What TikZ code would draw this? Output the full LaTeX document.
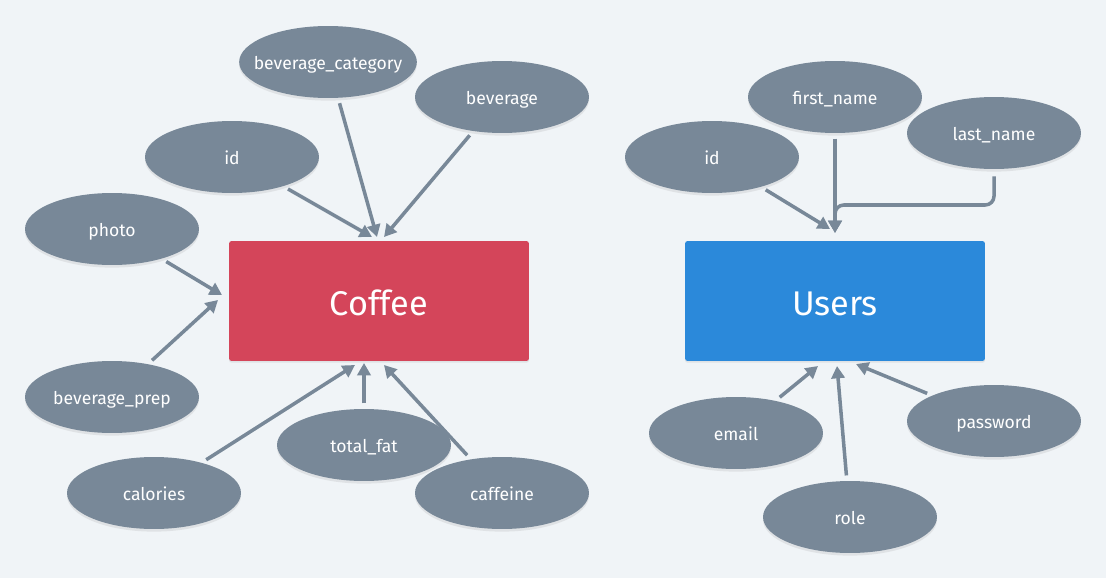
\documentclass[tikz,border=0pt]{standalone}
\usepackage{fontspec}
\setmainfont{Fira Sans}
\usetikzlibrary{arrows.meta,shapes.geometric,shadows}
\definecolor{attr}{RGB}{120,136,152}
\definecolor{bg}{RGB}{240,244,247}
\definecolor{coffeered}{RGB}{212,69,90}
\definecolor{usersblue}{RGB}{43,137,218}
\begin{document}
\begin{tikzpicture}[x=0.02cm,y=-0.02cm]

      \fill[bg] (0,0) rectangle (1106,578);
      \useasboundingbox (0,0) rectangle (1106,578);

      \begin{scope}[every node/.style={rectangle, rounded corners=1.5pt, minimum width=6cm, minimum height=2.4cm,
          text=white, text height=16pt, text depth=0pt, font=\fontsize{19.5}{22}\selectfont,
          drop shadow={shadow xshift=0pt, shadow yshift=-1pt, opacity=.15}}]
        \node[fill=coffeered] (coffee) at (379,301) {Coffee};
        \node[fill=usersblue] (users)  at (835,301) {Users};
      \end{scope}

      \begin{scope}[every node/.style={ellipse, fill=attr, inner sep=0pt, minimum width=3.48cm, minimum height=1.44cm,
          text=white, text height=1.6ex, text depth=0pt, font=\fontsize{10}{12}\selectfont,
          drop shadow={shadow xshift=0pt, shadow yshift=-1.5pt, opacity=.15}}]
        % Coffee attributes
        \node[inner xsep=-6.5pt] (cat) at (328,62) {beverage\_category};
        \node (bev)   at (502,97)  {beverage};
        \node (cid)   at (232,157) {id};
        \node (photo) at (112,229) {photo};
        \node (prep)  at (112,397) {beverage\_prep};
        \node (cal)   at (154,493) {calories};
        \node (fat)   at (364,445) {total\_fat};
        \node (caf)   at (502,493) {caffeine};
        % Users attributes
        \node (uid)   at (712,157) {id};
        \node (first) at (835,97)  {first\_name};
        \node (last)  at (994,133) {last\_name};
        \node (email) at (736,433) {email};
        \node (role)  at (850,517) {role};
        \node (pass)  at (994,421) {password};
      \end{scope}

      % arrow ends on the boxes
      \coordinate (c1) at (377,237);
      \coordinate (c2) at (384,237);
      \coordinate (c3) at (372,237);
      \coordinate (c4) at (222,295);
      \coordinate (c5) at (218,300);
      \coordinate (c6) at (355,365);
      \coordinate (c7) at (364,363);
      \coordinate (c8) at (384,365);
      \coordinate (u1) at (830,229);
      \coordinate (u2) at (835,233);
      \coordinate (u3) at (818,366);
      \coordinate (u4) at (837,366);
      \coordinate (u5) at (856,364);
      \coordinate (bend) at (835,205);

      \begin{scope}[every edge/.style={draw=attr, line width=2pt, -{Triangle[length=7pt,width=7.5pt]}, shorten <=3pt}]
        \path (cat)   edge (c1);
        \path (bev)   edge (c2);
        \path (cid)   edge (c3);
        \path (photo) edge (c4);
        \path (prep)  edge (c5);
        \path (cal)   edge (c6);
        \path (fat)   edge (c7);
        \path (caf)   edge (c8);
        \path (uid)   edge (u1);
        \path (first) edge (u2);
        \path (email) edge (u3);
        \path (role)  edge (u4);
        \path (pass)  edge (u5);
      \end{scope}

      \draw[attr, line width=2pt, rounded corners=5pt, -{Triangle[length=7pt,width=7.5pt]}]
        ([yshift=-4pt]last.south) |- (bend) -- (u2);

    \end{tikzpicture}
\end{document}
